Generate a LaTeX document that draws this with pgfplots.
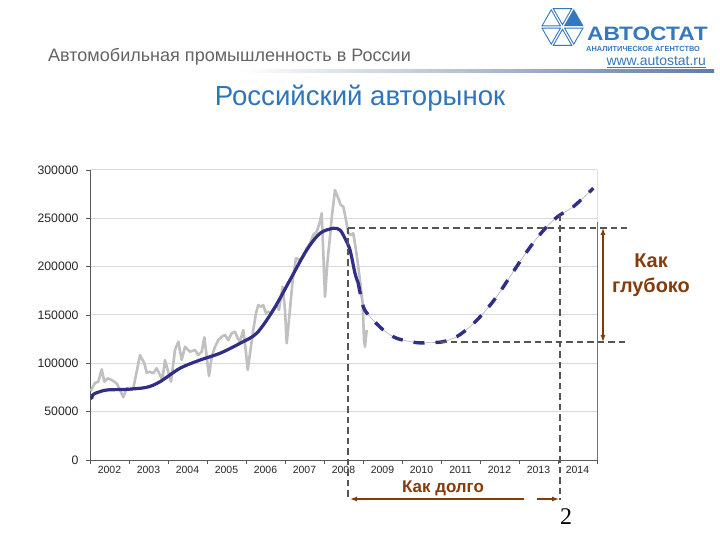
\documentclass[border=0pt]{standalone}
\usepackage{pgfplots}
\pgfplotsset{compat=1.18}
\usepackage{fontspec}
\setmainfont{Liberation Sans}
\newfontfamily\seriffont{Liberation Serif}
\usetikzlibrary{arrows.meta,calc}
\definecolor{trend}{RGB}{49,46,134}
\definecolor{raw}{RGB}{192,192,192}
\definecolor{brownc}{HTML}{843C0C}
\definecolor{titleblue}{RGB}{47,117,186}
\definecolor{logoblue}{RGB}{52,120,192}
\definecolor{subgray}{RGB}{100,100,100}
\definecolor{guide}{RGB}{85,85,85}
\definecolor{rulecol}{RGB}{95,125,165}

\pgfplotstableread{
x y
2002.018 71400
2002.128 79700
2002.213 81000
2002.300 93800
2002.367 81000
2002.454 84500
2002.556 82800
2002.685 79300
2002.769 72400
2002.854 64900
2002.941 74200
2003.026 72400
2003.110 74200
2003.197 91300
2003.282 108600
2003.392 100000
2003.454 90300
2003.538 91300
2003.623 89700
2003.710 94900
2003.795 87900
2003.854 82800
2003.923 103500
2003.992 93100
2004.077 81000
2004.179 113800
2004.264 122400
2004.351 103500
2004.436 117200
2004.564 112000
2004.692 113800
2004.777 108600
2004.864 112000
2004.931 127000
2004.992 106900
2005.051 86900
2005.121 106900
2005.205 117200
2005.290 124100
2005.377 127600
2005.462 129300
2005.546 124100
2005.633 131100
2005.718 132700
2005.787 125900
2005.846 122400
2005.931 134500
2005.992 113800
2006.044 93100
2006.103 110400
2006.187 134500
2006.256 151800
2006.315 160300
2006.385 158600
2006.444 160300
2006.513 151800
2006.572 153400
2006.641 151800
2006.700 155900
2006.787 160300
2006.846 155200
2006.941 179300
2007.000 155200
2007.044 120700
2007.110 148200
2007.197 186200
2007.282 208700
2007.385 206900
2007.469 210300
2007.556 219000
2007.641 224200
2007.726 232800
2007.813 236200
2007.897 246500
2007.941 255200
2007.982 213800
2008.026 168900
2008.085 203500
2008.154 231000
2008.197 250000
2008.282 279300
2008.367 270700
2008.428 263800
2008.495 262000
2008.564 248300
2008.623 234500
2008.685 232800
2008.751 234500
2008.821 217200
2008.879 200000
2008.941 179300
2008.992 162100
2009.026 124100
2009.051 117200
2009.095 134500
}\rawdata

\pgfplotstableread{
x y
2002.044 63800
2002.069 67200
2002.154 69300
2002.428 72400
2002.941 73100
2003.454 75200
2003.795 81000
2004.308 94900
2004.821 103400
2005.333 110400
2005.846 120700
2006.274 131100
2006.700 155200
2007.128 186200
2007.556 217200
2007.897 234500
2008.238 239700
2008.410 237900
2008.538 229300
2008.667 217200
2008.795 193100
2008.879 182800
}\trendsolid

\pgfplotstableread{
x y
2008.879 182800
2009.008 158600
2009.179 148200
2009.521 134500
2009.864 125900
2010.377 121400
2010.718 121400
2011.059 122400
2011.403 127600
2011.744 137900
2012.085 151800
2012.428 169000
2012.769 189600
2013.110 210300
2013.454 229300
2013.795 244800
2014.051 253500
2014.392 262000
2014.905 281100
}\trendforecast

\begin{document}
\begin{tikzpicture}
\path[use as bounding box, fill=white] (0,0) rectangle (720bp,540bp);

% header
\node[anchor=west, text=subgray, font=\fontsize{18.1}{20}\selectfont, inner sep=0pt] at (48bp,483bp) {Автомобильная промышленность в России};
\shade[left color=white, right color=rulecol] (238bp,467bp) rectangle (714bp,470bp);
\node[text=titleblue, font=\fontsize{27.7}{30}\selectfont, inner sep=0pt] at (360bp,442bp) {Российский авторынок};

% logo
\begin{scope}[shift={(562.5bp,513bp)}]
  \foreach \a in {60,120,180,240,300}{
    \pgfmathsetmacro\b{\a+60}
    \pgfmathsetmacro\m{\a+30}
    \draw[logoblue, line width=0.9bp]
      ($ (0,0)!0.18!(\m:13bp) $) -- ($ (\a:22.5bp)!0.18!(\m:13bp) $) -- ($ (\b:22.5bp)!0.18!(\m:13bp) $) -- cycle;
  }
  \fill[logoblue] ($ (0,0)!0.12!(30:13bp) $) -- ($ (0:22.5bp)!0.12!(30:13bp) $) -- ($ (60:22.5bp)!0.12!(30:13bp) $) -- cycle;
\end{scope}
\node[anchor=base west, text=logoblue, font=\bfseries\fontsize{19.5}{20}\selectfont, inner sep=0pt, text height=14bp, text depth=0pt] at (587bp,499bp) {\scalebox{1.17}[1]{АВТОСТАТ}};
\node[anchor=base west, text=logoblue, font=\bfseries\fontsize{7.4}{7.4}\selectfont, inner sep=0pt, text height=5.4bp, text depth=0pt] at (586bp,488.5bp) {АНАЛИТИЧЕСКОЕ АГЕНТСТВО};
\node[anchor=east, text=logoblue, font=\fontsize{14}{14}\selectfont, inner sep=0pt] at (706bp,478bp) {\underline{www.autostat.ru}};

\begin{axis}[
  at={(90bp,80bp)}, anchor=south west,
  width=507bp, height=290bp, scale only axis,
  xmin=2002, xmax=2015, ymin=0, ymax=300000,
  axis x line*=bottom, axis y line*=left,
  axis line style={-, draw=black!65, line width=1bp},
  xtick={2002,2003,...,2015},
  xticklabels={2002,2003,2004,2005,2006,2007,2008,2009,2010,2011,2012,2013,2014},
  x tick label as interval=true,
  ytick={0,50000,100000,150000,200000,250000,300000},
  yticklabels={0,50000,100000,150000,200000,250000,300000},
  scaled y ticks=false,
  tick align=outside,
  major tick length=4bp,
  tick style={draw=black!65, line width=0.8bp},
  /pgf/number format/assume math mode=true,
  xticklabel style={font=\fontsize{10.5}{11}\selectfont, text=black!85, yshift=1bp},
  yticklabel style={font=\fontsize{12.3}{13}\selectfont, text=black!85, xshift=-4bp},
  ymajorgrids,
  grid style={draw=black!15, line width=1bp},
  clip=false,
]
\addplot[draw=raw, line width=2.6bp, line join=round] table[x=x,y=y] {\rawdata};
\addplot[draw=trend, line width=3.2bp, smooth, tension=0.5, line cap=round] table[x=x,y=y] {\trendsolid};
\addplot[draw=black!30, line width=0.6bp, smooth, tension=0.5] table[x=x,y=y] {\trendforecast};
\addplot[draw=trend, line width=3.4bp, smooth, tension=0.5, dash pattern=on 11bp off 11bp] table[x=x,y=y] {\trendforecast};
\end{axis}

% right border
\draw[black!55, line width=0.8bp] (597bp,80bp) -- (597bp,318bp);
\draw[black!12, line width=0.8bp] (597bp,318bp) -- (597bp,370bp);

% guide lines
\begin{scope}[guide, line width=1.6bp, dash pattern=on 6.5bp off 4bp]
  \draw (348bp,312bp) -- (627bp,312bp);
  \draw (440bp,198bp) -- (625bp,198bp);
  \draw (348bp,312bp) -- (348bp,40bp);
  \draw (560bp,325bp) -- (560bp,40bp);
\end{scope}

% arrows
\draw[brownc, line width=1.2bp, {Latex[length=7bp,width=5bp]}-{Latex[length=7bp,width=5bp]}] (603bp,312bp) -- (603bp,198bp);
\draw[brownc, line width=1.2bp, -{Latex[length=7bp,width=5bp]}] (524bp,41bp) -- (350bp,41bp);
\draw[brownc, line width=1.2bp, -{Latex[length=7bp,width=5bp]}] (537bp,41bp) -- (559bp,41bp);

\node[text=brownc, font=\bfseries\fontsize{17}{20}\selectfont, inner sep=0pt] at (443bp,52bp) {Как долго};
\node[text=brownc, font=\bfseries\fontsize{20}{25}\selectfont, align=center, inner sep=0pt] at (651bp,264.5bp) {Как\\глубоко};
\node[font=\seriffont\fontsize{24}{24}\selectfont, inner sep=0pt] at (566bp,23bp) {2};
\end{tikzpicture}
\end{document}
